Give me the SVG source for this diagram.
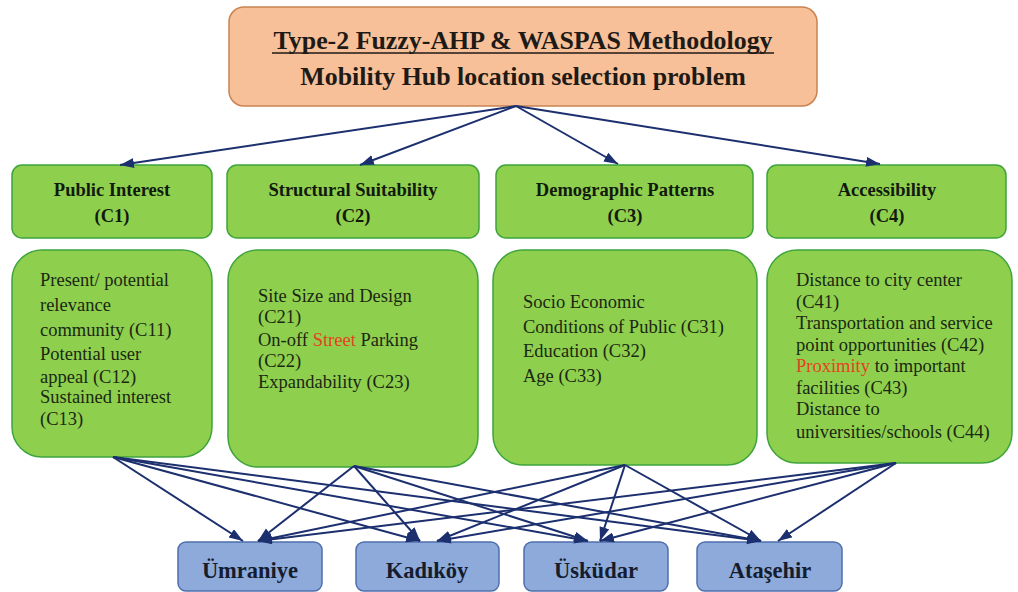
<svg xmlns="http://www.w3.org/2000/svg" width="1018" height="592" viewBox="0 0 1018 592">
  <style>
    text { font-family: 'Liberation Serif', 'Times New Roman', Tinos, 'DejaVu Serif', serif; }
    .title { font-weight: bold; font-size: 25.9px; fill: #1e1a16; text-anchor: middle; }
    .hdr-box { fill: #8fcf4e; stroke: #3ea43c; stroke-width: 1.5; }
    .det-box { fill: #8fcf4e; stroke: #3ea43c; stroke-width: 1.5; }
    .hdr { font-weight: bold; font-size: 18.5px; fill: #111a0c; text-anchor: middle; }
    .det { font-size: 18.5px; fill: #1a2812; }
    .red { fill: #e5421e; }
    .alt-box { fill: #8eaadb; stroke: #4d6fae; stroke-width: 1.5; }
    .alt { font-weight: bold; font-size: 22.5px; fill: #141c2e; text-anchor: middle; }
    .edge { stroke: #1c2f6e; stroke-width: 2; fill: none; marker-end: url(#arrow); }
  </style>
  <defs>
    <marker id="arrow" markerUnits="userSpaceOnUse" markerWidth="15" markerHeight="11" refX="14" refY="5" orient="auto">
      <path d="M0,0 L14,5 L0,10 Z" fill="#1c2f6e"/>
    </marker>
  </defs>

  <rect width="1018" height="592" fill="#ffffff"/>

  <!-- goal -->
  <g id="goal">
    <rect x="229" y="7" width="588" height="99" rx="15" fill="#f7c098" stroke="#c98250" stroke-width="1.5"/>
    <text class="title" x="523" y="49">Type-2 Fuzzy-AHP &amp; WASPAS Methodology</text>
    <line x1="272" y1="53" x2="774" y2="53" stroke="#1e1a16" stroke-width="1.6"/>
    <text class="title" x="523" y="85">Mobility Hub location selection problem</text>
  </g>

  <!-- criteria headers -->
  <g id="c1">
    <rect class="hdr-box" x="12" y="165" width="200" height="73" rx="10"/>
    <text class="hdr" x="112" y="196">Public Interest</text>
    <text class="hdr" x="112" y="222">(C1)</text>
  </g>
  <g id="c2">
    <rect class="hdr-box" x="227" y="165" width="252" height="73" rx="10"/>
    <text class="hdr" x="353" y="196">Structural Suitability</text>
    <text class="hdr" x="353" y="222">(C2)</text>
  </g>
  <g id="c3">
    <rect class="hdr-box" x="496" y="165" width="257" height="73" rx="10"/>
    <text class="hdr" x="625" y="196">Demographic Patterns</text>
    <text class="hdr" x="625" y="222">(C3)</text>
  </g>
  <g id="c4">
    <rect class="hdr-box" x="767" y="165" width="239" height="73" rx="10"/>
    <text class="hdr" x="887" y="196">Accessibility</text>
    <text class="hdr" x="887" y="222">(C4)</text>
  </g>

  <!-- sub-criteria -->
  <g id="c1-sub">
    <rect class="det-box" x="12" y="250" width="200" height="207" rx="30"/>
    <text class="det" x="40" y="286">Present/ potential</text>
    <text class="det" x="40" y="311">relevance</text>
    <text class="det" x="40" y="336">community (C11)</text>
    <text class="det" x="40" y="360">Potential user</text>
    <text class="det" x="40" y="383">appeal (C12)</text>
    <text class="det" x="40" y="403">Sustained interest</text>
    <text class="det" x="40" y="425">(C13)</text>
  </g>
  <g id="c2-sub">
    <rect class="det-box" x="228" y="250" width="250" height="217" rx="30"/>
    <text class="det" x="258" y="302">Site Size and Design</text>
    <text class="det" x="258" y="323">(C21)</text>
    <text class="det" x="258" y="346">On-off <tspan class="red">Street</tspan> Parking</text>
    <text class="det" x="258" y="367">(C22)</text>
    <text class="det" x="258" y="388">Expandability (C23)</text>
  </g>
  <g id="c3-sub">
    <rect class="det-box" x="493" y="250" width="264" height="215" rx="30"/>
    <text class="det" x="523" y="308">Socio Economic</text>
    <text class="det" x="523" y="333">Conditions of Public (C31)</text>
    <text class="det" x="523" y="357">Education (C32)</text>
    <text class="det" x="523" y="382">Age (C33)</text>
  </g>
  <g id="c4-sub">
    <rect class="det-box" x="767" y="250" width="245" height="213" rx="30"/>
    <text class="det" x="796" y="286">Distance to city center</text>
    <text class="det" x="796" y="308">(C41)</text>
    <text class="det" x="796" y="329">Transportation and service</text>
    <text class="det" x="796" y="351">point opportunities (C42)</text>
    <text class="det" x="796" y="372"><tspan class="red">Proximity</tspan> to important</text>
    <text class="det" x="796" y="394">facilities (C43)</text>
    <text class="det" x="796" y="415">Distance to</text>
    <text class="det" x="796" y="438">universities/schools (C44)</text>
  </g>

  <!-- alternatives -->
  <g id="umraniye">
    <rect class="alt-box" x="178" y="542" width="144" height="49" rx="8"/>
    <text class="alt" x="250" y="578">Ümraniye</text>
  </g>
  <g id="kadikoy">
    <rect class="alt-box" x="356" y="542" width="143" height="49" rx="8"/>
    <text class="alt" x="427" y="578">Kadıköy</text>
  </g>
  <g id="uskudar">
    <rect class="alt-box" x="524" y="542" width="144" height="49" rx="8"/>
    <text class="alt" x="596" y="578">Üsküdar</text>
  </g>
  <g id="atasehir">
    <rect class="alt-box" x="697" y="542" width="145" height="49" rx="8"/>
    <text class="alt" x="770" y="578">Ataşehir</text>
  </g>

  <!-- connectors -->
  <g id="connectors">
    <line class="edge" x1="516" y1="106" x2="120" y2="165"/>
    <line class="edge" x1="516" y1="106" x2="360" y2="165"/>
    <line class="edge" x1="516" y1="106" x2="618" y2="164"/>
    <line class="edge" x1="516" y1="106" x2="880" y2="164"/>

    <line class="edge" x1="113" y1="457" x2="243" y2="541"/>
    <line class="edge" x1="113" y1="457" x2="420" y2="541"/>
    <line class="edge" x1="113" y1="457" x2="588" y2="541"/>
    <line class="edge" x1="113" y1="457" x2="761" y2="541"/>

    <line class="edge" x1="354" y1="466" x2="258" y2="541"/>
    <line class="edge" x1="354" y1="466" x2="420" y2="541"/>
    <line class="edge" x1="354" y1="466" x2="588" y2="541"/>
    <line class="edge" x1="354" y1="466" x2="761" y2="541"/>

    <line class="edge" x1="625" y1="465" x2="258" y2="541"/>
    <line class="edge" x1="625" y1="465" x2="437" y2="541"/>
    <line class="edge" x1="625" y1="465" x2="600" y2="541"/>
    <line class="edge" x1="625" y1="465" x2="761" y2="541"/>

    <line class="edge" x1="896" y1="463" x2="258" y2="541"/>
    <line class="edge" x1="896" y1="463" x2="437" y2="541"/>
    <line class="edge" x1="896" y1="463" x2="600" y2="541"/>
    <line class="edge" x1="896" y1="463" x2="778" y2="541"/>
  </g>
</svg>
